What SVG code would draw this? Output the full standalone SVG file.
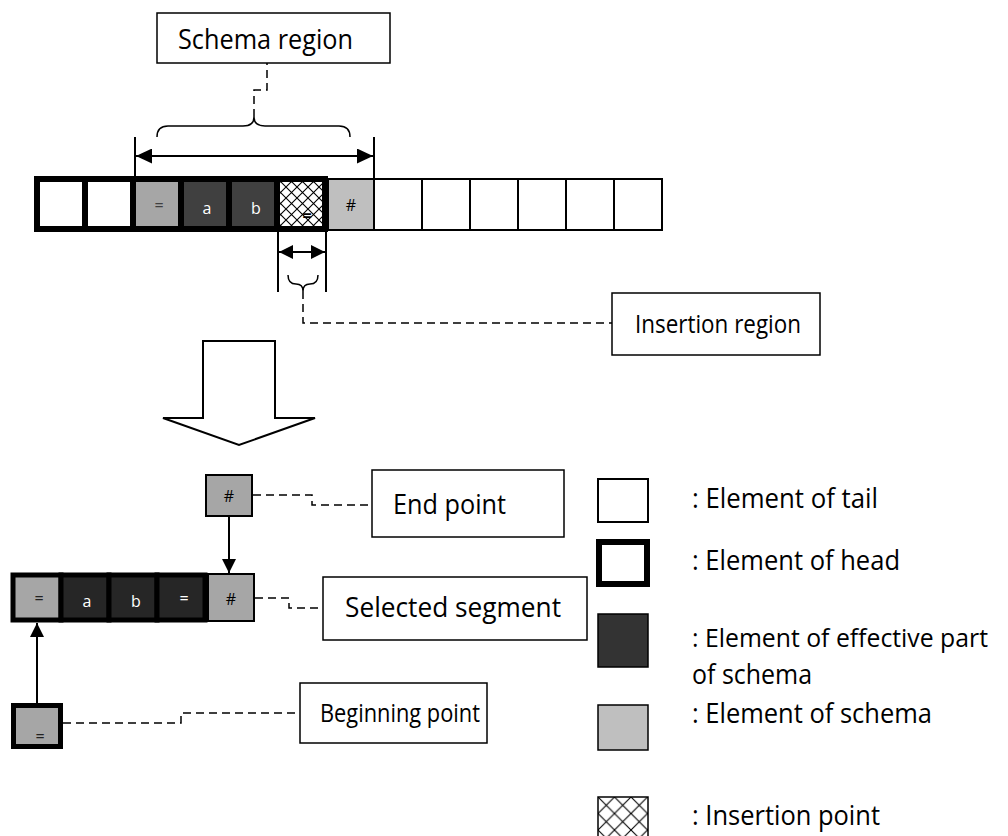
<svg xmlns="http://www.w3.org/2000/svg" width="1008" height="836" viewBox="0 0 1008 836">
  <defs>
    <pattern id="hatch" width="11" height="11" patternUnits="userSpaceOnUse">
      <rect width="11" height="11" fill="#fff"/>
      <path d="M0,0 L11,11 M11,0 L0,11" stroke="#000" stroke-width="1.1" fill="none"/>
    </pattern>
    <pattern id="hatchLegend" width="16.5" height="16.5" patternUnits="userSpaceOnUse" x="598" y="797">
      <rect width="16.5" height="16.5" fill="#fff"/>
      <path d="M0,0 L16.5,16.5 M16.5,0 L0,16.5" stroke="#000" stroke-width="1.1" fill="none"/>
    </pattern>
    <marker id="head" viewBox="0 0 16 15" refX="16" refY="7.5" markerWidth="16" markerHeight="15" markerUnits="userSpaceOnUse" orient="auto-start-reverse">
      <path d="M0,0 L16,7.5 L0,15 Z" fill="#000"/>
    </marker>
    <marker id="headS" viewBox="0 0 14 14" refX="14" refY="7" markerWidth="14" markerHeight="14" markerUnits="userSpaceOnUse" orient="auto-start-reverse">
      <path d="M0,0 L14,7 L0,14 Z" fill="#000"/>
    </marker>
  </defs>
  <style>
    .lbl { font-family: "Open Sans", "Noto Sans", sans-serif; font-size: 28px; fill: #000; }
    .lbl-s { font-family: "Open Sans", "Noto Sans", sans-serif; font-size: 25.5px; fill: #000; }
    .cell-t { font-family: "Open Sans", "Noto Sans", sans-serif; font-size: 16px; text-anchor: middle; }
    .box { fill: #fff; stroke: #000; stroke-width: 1.5; }
    .head { stroke: #000; stroke-width: 6; }
    .head5 { stroke: #000; stroke-width: 5; }
    .thin { stroke: #000; stroke-width: 2; }
    .tail { fill: #fff; stroke: #000; stroke-width: 2; }
    .dash { fill: none; stroke: #000; stroke-width: 1.5; stroke-dasharray: 8 5; }
    .solid { fill: none; stroke: #000; stroke-width: 2; }
    .brace { fill: none; stroke: #000; stroke-width: 1.5; }
    .g-mid { fill: #a6a6a6; }
    .g-light { fill: #bfbfbf; }
    .g-dark { fill: #404040; }
    .g-darker { fill: #262626; }
  </style>

  <!-- upper sequence: head cells, schema end mark, tail cells -->
  <g id="sequence-top">
    <rect class="head" x="37" y="179" width="48" height="50" fill="#fff"/>
    <rect class="head" x="85" y="179" width="48" height="50" fill="#fff"/>
    <rect class="head g-mid" x="133" y="179" width="48" height="50"/>
    <rect class="head g-dark" x="181" y="179" width="48" height="50"/>
    <rect class="head g-dark" x="229" y="179" width="48" height="50"/>
    <rect class="head" x="277" y="179" width="48" height="50" fill="url(#hatch)"/>
    <rect class="thin g-light" x="328" y="179" width="46" height="51"/>
    <rect class="tail" x="374" y="179" width="48" height="51"/>
    <rect class="tail" x="422" y="179" width="48" height="51"/>
    <rect class="tail" x="470" y="179" width="48" height="51"/>
    <rect class="tail" x="518" y="179" width="48" height="51"/>
    <rect class="tail" x="566" y="179" width="48" height="51"/>
    <rect class="tail" x="614" y="179" width="48" height="51"/>
    <text class="cell-t" x="159" y="211" fill="#404040">=</text>
    <text class="cell-t" x="207" y="214" fill="#fff">a</text>
    <text class="cell-t" x="256" y="214" fill="#fff">b</text>
    <text class="cell-t" x="307" y="221" fill="#000" font-weight="bold">=</text>
    <text class="cell-t" x="351" y="211" fill="#000" font-size="14">#</text>
  </g>

  <!-- label boxes -->
  <g id="schema-region">
    <rect class="box" x="157" y="13" width="233" height="50"/>
    <text class="lbl" x="178" y="49" textLength="175" lengthAdjust="spacingAndGlyphs">Schema region</text>
  </g>
  <g id="insertion-region">
    <rect class="box" x="612" y="293" width="208" height="62"/>
    <text class="lbl-s" x="635" y="333" textLength="166" lengthAdjust="spacingAndGlyphs">Insertion region</text>
  </g>

  <!-- transformation arrow -->
  <g id="transform-arrow">
    <polygon points="203,341 275,341 275,418 315,418 239,445 163,418 203,418" fill="#fff" stroke="#000" stroke-width="2"/>
  </g>

  <!-- lower part: end point, selected segment, beginning point -->
  <g id="end-point-cell">
    <rect class="thin g-mid" x="206" y="475" width="46" height="41"/>
    <text class="cell-t" x="229" y="502" font-size="13">#</text>
  </g>
  <g id="selected-segment">
    <rect class="head5 g-mid" x="13" y="575" width="48" height="45"/>
    <rect class="head5 g-darker" x="61" y="575" width="48" height="45"/>
    <rect class="head5 g-darker" x="109" y="575" width="48" height="45"/>
    <rect class="head5 g-darker" x="157" y="575" width="48" height="45"/>
    <rect class="thin g-mid" x="208" y="574" width="46" height="47"/>
    <text class="cell-t" x="39" y="604" fill="#222">=</text>
    <text class="cell-t" x="87" y="607" fill="#fff">a</text>
    <text class="cell-t" x="136" y="607" fill="#fff">b</text>
    <text class="cell-t" x="184" y="604" fill="#fff">=</text>
    <text class="cell-t" x="231" y="605" fill="#000" font-size="14">#</text>
  </g>
  <g id="beginning-point-cell">
    <rect class="head5 g-mid" x="13.5" y="705.5" width="47" height="41"/>
    <text class="cell-t" x="40" y="742" fill="#222" font-size="13">=</text>
  </g>
  <g id="end-point">
    <rect class="box" x="372" y="470" width="192" height="67"/>
    <text class="lbl" x="393" y="514" textLength="113" lengthAdjust="spacingAndGlyphs">End point</text>
  </g>
  <g id="selected-segment-label">
    <rect class="box" x="323" y="577" width="264" height="63"/>
    <text class="lbl" x="345" y="617" textLength="216" lengthAdjust="spacingAndGlyphs">Selected segment</text>
  </g>
  <g id="beginning-point">
    <rect class="box" x="300" y="683" width="187" height="60"/>
    <text class="lbl-s" x="320" y="722" textLength="160" lengthAdjust="spacingAndGlyphs">Beginning point</text>
  </g>

  <!-- legend -->
  <g id="legend-tail">
    <rect class="tail" x="598" y="479" width="50" height="43"/>
    <text class="lbl" x="692" y="508" textLength="186" lengthAdjust="spacingAndGlyphs">: Element of tail</text>
  </g>
  <g id="legend-head">
    <rect class="head" x="599" y="542" width="48" height="42" fill="#fff"/>
    <text class="lbl" x="692" y="570" textLength="208" lengthAdjust="spacingAndGlyphs">: Element of head</text>
  </g>
  <g id="legend-effective">
    <rect x="598" y="614" width="50" height="53" fill="#333" stroke="#000" stroke-width="1.5"/>
    <text class="lbl-s" x="692" y="647" textLength="296" lengthAdjust="spacingAndGlyphs">: Element of effective part</text>
    <text class="lbl" x="692" y="684" textLength="120" lengthAdjust="spacingAndGlyphs">of schema</text>
  </g>
  <g id="legend-schema">
    <rect x="598" y="705" width="50" height="45" fill="#bfbfbf" stroke="#000" stroke-width="1.5"/>
    <text class="lbl" x="692" y="723" textLength="240" lengthAdjust="spacingAndGlyphs">: Element of schema</text>
  </g>
  <g id="legend-insertion">
    <rect x="598" y="797" width="50" height="45" fill="url(#hatchLegend)" stroke="#000" stroke-width="1.5"/>
    <text class="lbl" x="692" y="825" textLength="188" lengthAdjust="spacingAndGlyphs">: Insertion point</text>
  </g>

  <!-- connectors, dimension marks and braces -->
  <g id="connectors">
    <!-- schema region span -->
    <line class="solid" x1="135" y1="137" x2="135" y2="176"/>
    <line class="solid" x1="374" y1="137" x2="374" y2="179"/>
    <line class="solid" x1="136" y1="156" x2="373" y2="156" marker-start="url(#head)" marker-end="url(#head)"/>
    <path class="brace" d="M157,137 Q157,126 168,126 L243,126 Q254,126 254,117 Q254,126 265,126 L339,126 Q350,126 350,137"/>
    <path class="dash" d="M254,117 V90 H267 V63"/>

    <!-- insertion region span -->
    <line class="solid" x1="278" y1="232" x2="278" y2="292"/>
    <line class="solid" x1="326" y1="232" x2="326" y2="292"/>
    <line class="solid" x1="279" y1="252" x2="325" y2="252" marker-start="url(#headS)" marker-end="url(#headS)"/>
    <path class="brace" d="M288,275 Q288,284 296,284 Q303,284 303,291 Q303,284 310,284 Q318,284 318,275"/>
    <path class="dash" d="M303,291 V323 H612"/>

    <!-- end point into the segment -->
    <line class="solid" x1="229" y1="516" x2="229" y2="573" marker-end="url(#headS)"/>
    <!-- beginning point into the segment -->
    <line class="solid" x1="37" y1="703" x2="37" y2="623" marker-end="url(#headS)"/>

    <!-- label leaders -->
    <path class="dash" d="M253,495 H312 V505 H372"/>
    <path class="dash" d="M255,598 H289 V608 H323"/>
    <path class="dash" d="M63,723 H181 V713 H300"/>
  </g>
</svg>
